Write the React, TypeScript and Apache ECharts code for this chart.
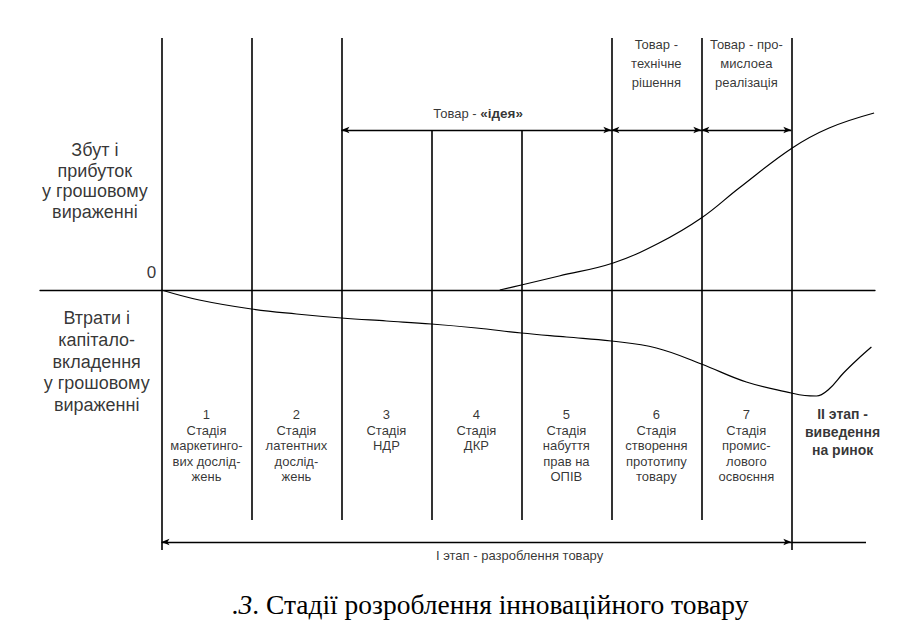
import React, { useEffect, useRef } from "react";
import * as echarts from "echarts";

// Stage boundaries (x in stage units, y in money units, 0 = zero line)
const boundaries = [0, 1, 2, 3, 4, 5, 6, 7];
const boundaryTop = [25.2, 25.2, 25.2, 16, 16, 25.2, 25.2, 25.2];
const boundaryBottom = [-26, -23, -23, -23, -23, -23, -23, -26];

// Sales & profit curve
const salesX = [3.76, 4.0, 4.42, 5.02, 5.53, 6.0, 6.42, 7.01, 7.42, 7.92];
const salesY = [0, 0.5, 1.4, 2.7, 4.7, 7.2, 10.2, 14.2, 16.2, 17.7];

// Losses & capital investment curve
const lossX = [0, 0.42, 1.0, 1.5, 2.0, 2.5, 3.0, 3.5, 4.0, 4.5, 5.0, 5.5, 6.0, 6.5, 7.0, 7.15, 7.28, 7.42, 7.58, 7.74, 7.89];
const lossY = [0, -1.0, -1.9, -2.4, -2.8, -3.1, -3.4, -3.8, -4.3, -4.7, -5.1, -5.8, -7.4, -9.2, -10.3, -10.55, -10.6, -9.9, -8.3, -6.9, -5.7];

const stageLabels = [
  "1\nСтадія\nмаркетинго-\nвих дослід-\nжень",
  "2\nСтадія\nлатентних\nдослід-\nжень",
  "3\nСтадія\nНДР",
  "4\nСтадія\nДКР",
  "5\nСтадія\nнабуття\nправ на\nОПІВ",
  "6\nСтадія\nстворення\nпрототипу\nтовару",
  "7\nСтадія\nпромис-\nлового\nосвоєння",
];
const stage2Label = "ІІ этап -\nвиведення\nна ринок";
const upperLabel = "Збут і\nприбуток\nу грошовому\nвираженні";
const lowerLabel = "Втрати і\nкапітало-\nвкладення\nу грошовому\nвираженні";
const ideaLabel = "Товар - «ідея»";
const techLabel = "Товар -\nтехнічне\nрішення";
const industLabel = "Товар - про-\nмислоеа\nреалізація";
const stage1Label = "І этап - разроблення товару";
const zeroLabel = "0";
const captionNumber = "3";
const captionText = ". Стадії розроблення інноваційного товару";

const SANS = "Liberation Sans";
const SERIF = "Liberation Serif";

export default function App() {
  const ref = useRef<HTMLDivElement>(null);
  useEffect(() => {
    if (!ref.current) return;
    const chart = echarts.init(ref.current, undefined, { renderer: "svg" });

    const vLines = boundaries.map((b, i) => [
      { coord: [b, boundaryTop[i]] },
      { coord: [b, boundaryBottom[i]] },
    ]);
    const arrowLines = [
      [{ coord: [2, 16] }, { coord: [5, 16] }],
      [{ coord: [5, 16] }, { coord: [6, 16] }],
      [{ coord: [6, 16] }, { coord: [7, 16] }],
      [{ coord: [0, -25.2] }, { coord: [7, -25.2] }],
    ];

    const texts: any[] = [];
    stageLabels.forEach((t, i) => {
      texts.push({
        value: [i + 0.5, -11.7],
        name: t,
        label: { fontSize: 13, lineHeight: 15.5, verticalAlign: "top" },
      });
    });
    texts.push({
      value: [7.57, -11.5],
      name: stage2Label,
      label: { fontSize: 14, lineHeight: 18, fontWeight: "bold", verticalAlign: "top" },
    });
    texts.push({
      value: [-0.74, 15.0],
      name: upperLabel,
      label: { fontSize: 18, lineHeight: 20.5, verticalAlign: "top" },
    });
    texts.push({
      value: [-0.72, -1.7],
      name: lowerLabel,
      label: { fontSize: 18, lineHeight: 21.8, verticalAlign: "top" },
    });
    texts.push({
      value: [-0.11, 1.8],
      name: zeroLabel,
      label: { fontSize: 17, verticalAlign: "middle" },
    });
    texts.push({
      value: [5.5, 25.5],
      name: techLabel,
      label: { fontSize: 13, lineHeight: 19, verticalAlign: "top" },
    });
    texts.push({
      value: [6.5, 25.5],
      name: industLabel,
      label: { fontSize: 13, lineHeight: 19, verticalAlign: "top" },
    });
    texts.push({
      value: [3.52, 17.7],
      name: ideaLabel,
      label: {
        verticalAlign: "middle",
        formatter: () => "{n|Товар - }{b|«ідея»}",
        rich: {
          n: { fontSize: 13, fontFamily: SANS, color: "#000" },
          b: { fontSize: 13.5, fontFamily: SANS, fontWeight: "bold", color: "#000" },
        },
      },
    });
    texts.push({
      value: [3.98, -26.5],
      name: stage1Label,
      label: { fontSize: 13, verticalAlign: "middle" },
    });

    chart.setOption({
      animation: false,
      backgroundColor: "#fff",
      title: {
        text: "{r|.}{i|" + captionNumber + "}{r|" + captionText + "}",
        left: 490,
        top: 590,
        padding: 0,
        textAlign: "center",
        textStyle: {
          fontFamily: SERIF,
          fontSize: 27.5,
          fontWeight: "normal",
          color: "#000",
          rich: {
            r: { fontFamily: SERIF, fontSize: 27.5, color: "#000" },
            i: { fontFamily: SERIF, fontSize: 27.5, fontStyle: "italic", color: "#000" },
          },
        },
      },
      grid: { left: 40, right: 44, top: 38, bottom: 87 },
      xAxis: {
        type: "value",
        min: -1.35,
        max: 7.93,
        axisLine: { show: true, onZero: true, lineStyle: { color: "#000", width: 1.3 } },
        axisTick: { show: false },
        axisLabel: { show: false },
        splitLine: { show: false },
      },
      yAxis: {
        type: "value",
        min: -26,
        max: 25.2,
        axisLine: { show: false },
        axisTick: { show: false },
        axisLabel: { show: false },
        splitLine: { show: false },
      },
      series: [
        {
          type: "line",
          name: "sales",
          smooth: 0.4,
          showSymbol: false,
          symbol: "none",
          clip: false,
          lineStyle: { color: "#000", width: 1.2 },
          data: salesX.map((x, i) => [x, salesY[i]]),
          markLine: {
            silent: true,
            symbol: ["none", "none"],
            label: { show: false },
            lineStyle: { color: "#000", width: 1.6, type: "solid" },
            data: vLines,
          },
        },
        {
          type: "line",
          name: "loss",
          smooth: 0.4,
          showSymbol: false,
          symbol: "none",
          clip: false,
          lineStyle: { color: "#000", width: 1.2 },
          data: lossX.map((x, i) => [x, lossY[i]]),
          markLine: {
            silent: true,
            symbol: ["arrow", "arrow"],
            symbolSize: [5, 8],
            label: { show: false },
            lineStyle: { color: "#000", width: 1.3, type: "solid" },
            data: [
              ...arrowLines,
              [
                { coord: [7, -25.2], symbol: "none" },
                { coord: [7.83, -25.2], symbol: "none" },
              ],
            ],
          },
        },
        {
          type: "scatter",
          name: "texts",
          symbolSize: 1,
          clip: false,
          silent: true,
          itemStyle: { color: "rgba(0,0,0,0)" },
          label: {
            show: true,
            position: "inside",
            formatter: "{b}",
            color: "#000",
            fontFamily: SANS,
            align: "center",
          },
          data: texts,
        },
      ],
    });
    return () => chart.dispose();
  }, []);
  return (
    <div
      ref={ref}
      style={{ position: "fixed", left: 0, top: 0, width: 919, height: 637, background: "#fff" }}
    />
  );
}
